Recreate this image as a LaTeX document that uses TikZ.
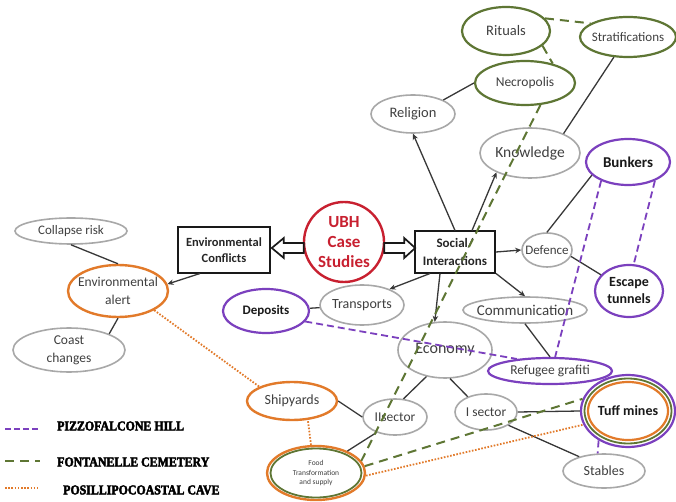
\documentclass[tikz,border=0pt]{standalone}
\usepackage{fontspec}
\setmainfont{Carlito}
\newfontfamily\legfont{Liberation Serif Bold}[FakeBold=3,FakeStretch=0.88]
\usetikzlibrary{arrows.meta,shapes.geometric}

\definecolor{edgegray}{HTML}{A8A8A8}
\definecolor{txtgray}{HTML}{404040}
\definecolor{cemgreen}{HTML}{5E7634}
\definecolor{hillpurple}{HTML}{7B40BE}
\definecolor{caveorange}{HTML}{E27A2A}
\definecolor{ubhred}{HTML}{C82030}
\definecolor{linkgray}{HTML}{383838}

\newcommand\fz[2]{\fontsize{#1}{#2}\selectfont}

\begin{document}
\begin{tikzpicture}[x=1pt,y=-1pt,
  el/.style={ellipse, inner sep=0pt, fill=white},
  gel/.style={el, draw=edgegray, line width=1.6pt},
  cel/.style={el, draw=cemgreen, line width=2.2pt},
  pel/.style={el, draw=hillpurple, line width=2.2pt},
  oel/.style={el, draw=caveorange, line width=2.4pt},
  sz/.style 2 args={minimum width=#1pt, minimum height=#2pt},
  lab/.style={text=txtgray, align=center, inner sep=0pt},
  blab/.style={text=black!90, align=center, inner sep=0pt},
  boxnode/.style={rectangle, draw=black!90, line width=2pt, fill=white, inner sep=0pt, align=center},
  conn/.style={draw=linkgray, line width=1.3pt},
  arr/.style={conn, -{Stealth[length=6pt,width=5.5pt]}},
  hollow/.style={draw=black!90, line width=1.7pt, fill=white, line join=miter},
  hilldash/.style={draw=hillpurple, line width=1.8pt, dash pattern=on 7pt off 4pt},
  cemdash/.style={draw=cemgreen, line width=2pt, dash pattern=on 9pt off 6pt},
  cavedot/.style={draw=caveorange, line width=1.8pt, dash pattern=on 1.6pt off 1.6pt},
  legtext/.style={anchor=west, inner sep=0pt, text=black, font=\legfont\fz{13.5}{16}}
]
\fill[white] (0,0) rectangle (676,502);
\useasboundingbox (0,0) rectangle (676,502);

% ---- nodes ----
\node[cel, sz={88}{48}, label={[lab, font=\fz{14.5}{17}]center:Rituals}] (rituals) at (506,31) {};
\node[cel, sz={96}{40}, label={[lab, font=\fz{13}{16}]center:Stratifications}] (strat) at (628,37) {};
\node[cel, sz={100}{44}, label={[lab, font=\fz{13.5}{16}]center:Necropolis}] (necro) at (525,83) {};
\node[gel, sz={84}{38}, label={[lab, font=\fz{14.5}{17}]center:Religion}] (religion) at (413,114) {};
\node[gel, sz={100}{50}, label={[lab, font=\fz{15.5}{18}]center:Knowledge}] (knowledge) at (530,153) {};
\node[pel, sz={84}{46}, label={[blab, font=\bfseries\fz{15}{18}]center:Bunkers}] (bunkers) at (628,162) {};

\node[circle, draw=ubhred, line width=2.4pt, fill=white, minimum size=80pt, inner sep=0pt,
      label={[align=center, inner sep=0pt, text=ubhred, font=\bfseries\fz{17}{20}]center:UBH\\Case\\Studies}] (ubh) at (344,242) {};
\node[boxnode, minimum width=92pt, minimum height=45pt, font=\bfseries\fz{12.5}{16}, text=black!85] (envconf) at (224,250) {Environmental\\Conflicts};
\node[boxnode, minimum width=80pt, minimum height=41pt, font=\bfseries\fz{13}{18}, text=black!85] (social) at (455,252) {Social/\\Interactions};

\node[gel, sz={50}{34}, label={[lab, font=\fz{13}{16}]center:Defence}] (defence) at (547,250) {};
\node[pel, sz={68}{52}, label={[blab, font=\bfseries\fz{14}{17}]center:Escape\\tunnels}] (escape) at (629,291) {};
\node[gel, sz={84}{40}, label={[lab, font=\fz{14}{17}]center:Transports}] (transports) at (362,305) {};
\node[gel, sz={124}{26}, label={[lab, font=\fz{15}{17}]center:Communication}] (comm) at (525,310) {};
\node[gel, sz={94}{56}, label={[lab, font=\fz{16}{19}]center:Economy}] (economy) at (445,350) {};
\node[pel, sz={124}{26}, label={[lab, font=\fz{13.5}{16}]center:Refugee grafiti}] (refugee) at (550,371) {};
\node[pel, sz={86}{44}, label={[blab, font=\bfseries\fz{13}{16}]center:Deposits}] (deposits) at (266,311) {};

\node[gel, sz={112}{26}, label={[lab, font=\fz{13}{16}]center:Collapse risk}] (collapse) at (71,231) {};
\node[oel, sz={100}{52}, label={[lab, font=\fz{13.5}{18}]center:Environmental\\alert}] (envalert) at (118,291) {};
\node[gel, sz={112}{44}, label={[lab, font=\fz{13.5}{18}]center:Coast\\changes}] (coast) at (69,350) {};

\node[oel, sz={90}{38}, label={[lab, font=\fz{14}{17}]center:Shipyards}] (shipyards) at (292,401) {};
\node[gel, sz={64}{36}, label={[lab, font=\fz{13.5}{16}]center:IIsector}] (iisector) at (395,417) {};
\node[gel, sz={62}{36}, label={[lab, font=\fz{13.5}{16}]center:I sector}] (isector) at (486,412) {};
\node[pel, sz={94}{72}, label={[blab, font=\bfseries\fz{14}{17}]center:Tuff mines}] (tuff) at (628,411) {};
\node[gel, sz={82}{34}, label={[lab, font=\fz{14}{17}]center:Stables}] (stables) at (604,471) {};
\node[oel, sz={98}{54}, label={[lab, font=\fz{7.5}{9.5}]center:Food\\Transformation\\and supply}] (food) at (316,473) {};

% inner rings of the shared sites
\draw[cemgreen, line width=1.8pt] (tuff.center) ellipse [x radius=43.5pt, y radius=32.5pt];
\draw[caveorange, line width=2.2pt] (tuff.center) ellipse [x radius=40pt, y radius=29pt];
\draw[cemgreen, line width=1.8pt] (food.center) ellipse [x radius=45.5pt, y radius=24.5pt];

% ---- hollow arrows out of the case studies ----
\draw[hollow] ([xshift=1pt,yshift=-6pt]ubh.west) ++(0,-5) -- ++(-20,0) -- ++(0,-5) -- ++(-12,10) -- ++(12,10) -- ++(0,-5) -- ++(20,0) -- cycle;
\draw[hollow] ([xshift=-1pt,yshift=-6pt]ubh.east) ++(0,-5) -- ++(20,0) -- ++(0,-5) -- ++(11,10) -- ++(-11,10) -- ++(0,-5) -- ++(-20,0) -- cycle;

% ---- solid links ----
\draw[arr] ([xshift=-24pt]envconf.south) -- (envalert.8);
\draw[conn] (collapse.south) -- (envalert.north);
\draw[conn] (envalert.south) -- (coast.north east);
\draw[conn] (religion.north east) -- (necro.west);
\draw[conn] (strat.235) -- (knowledge.30);
\draw[arr] (social.north) -- (religion.south);
\draw[arr] ([xshift=17pt]social.north) -- (knowledge.210);
\draw[arr] (social.east) -- (defence.west);
\draw[conn] (bunkers.200) -- (defence.north);
\draw[conn] (defence.-15) -- (escape.150);
\draw[arr] ([xshift=-25pt]social.south) -- (transports.30);
\draw[arr] (social.south east) -- (comm.north);
\draw[arr] ([xshift=-15pt]social.south) -- (economy.110);
\draw[conn] (deposits) -- (transports);
\draw[conn] (comm.south) -- (refugee.north);
\draw[conn] (economy.235) -- (iisector.65);
\draw[conn] (economy.280) -- (isector.140);
\draw[conn] (shipyards.east) -- (iisector.west);
\draw[conn] (iisector.220) -- (food.35);
\draw[conn] (isector.east) -- (tuff.west);
\draw[conn] (isector.south east) -- (stables.150);

% ---- Pizzofalcone Hill ----
\draw[hilldash] (bunkers.-35) -- (escape.80);
\draw[hilldash] (bunkers.215) -- (refugee.70);
\draw[hilldash] (deposits.-15) -- (refugee.160);
\draw[hilldash] (tuff.225) -- (stables.110);

% ---- Fontanelle Cemetery ----
\draw[cemdash] (rituals.18) -- (strat.160);
\draw[cemdash] (rituals.-22) -- (necro.35);
\draw[cemdash] (necro.-55) -- (food.15);
\draw[cemdash] (food.8) -- (tuff.165);

% ---- Posillipo coastal cave ----
\draw[cavedot] (envalert.south east) -- (shipyards.north west);
\draw[cavedot] ([xshift=16pt]shipyards.south) -- ([xshift=-5pt]food.north);
\draw[cavedot] (food.-3) -- (tuff.197);

% ---- legend ----
\coordinate (hillA) at (5,429);  \coordinate (hillB) at (40,429);
\coordinate (cemA) at (5,461);   \coordinate (cemB) at (40,461);
\coordinate (caveA) at (5,488);  \coordinate (caveB) at (38,488);
\draw[hilldash, dash pattern=on 6pt off 3pt] (hillA) -- (hillB);
\draw[cemdash] (cemA) -- (cemB);
\draw[cavedot] (caveA) -- (caveB);
\node[legtext] (leghill) at (57,426) {PIZZOFALCONE HILL};
\node[legtext] (legcem) at (57,462) {FONTANELLE CEMETERY};
\node[legtext] (legcave) at (63,490) {POSILLIPOCOASTAL CAVE};
\end{tikzpicture}
\end{document}
